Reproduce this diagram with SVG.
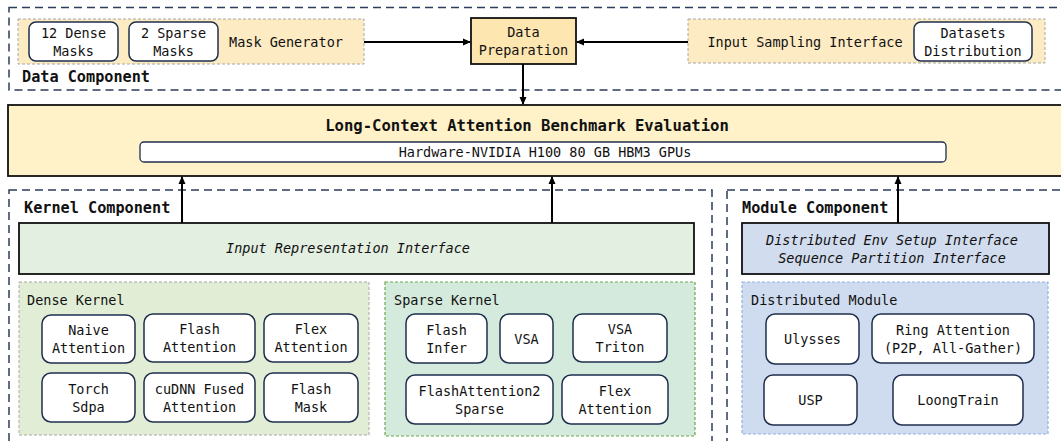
<svg xmlns="http://www.w3.org/2000/svg" width="1061" height="441" viewBox="0 0 1061 441">
<defs>
<marker id="ah" markerWidth="8" markerHeight="8" refX="7" refY="4" orient="auto" markerUnits="userSpaceOnUse">
<path d="M0,0.5 L8,4 L0,7.5 Z" fill="#000"/>
</marker>
<style>
text{font-family:"DejaVu Sans Mono","Liberation Mono",monospace;font-size:13.5px;fill:#111}
.c{text-anchor:middle}
.b{font-weight:bold;font-size:15.2px}
.t{font-weight:bold;font-size:15.6px}
.i{font-style:italic}
.comp{fill:none;stroke:#2b3d5c;stroke-width:1.5;stroke-dasharray:8 5}
.node{fill:#fff;stroke:#1e2f4d;stroke-width:1.5}
.solid{stroke:#111;stroke-width:1.8}
.conn{stroke:#000;stroke-width:2;fill:none;marker-end:url(#ah)}
</style>
</defs>

<g id="data-component">
<rect class="comp" x="9" y="7.5" width="1090" height="82.5"/>
<text class="b" x="22" y="82">Data Component</text>
</g>

<g id="mask-generator">
<rect x="18" y="19" width="346" height="45" fill="#fdebc3" stroke="#a8a8a8" stroke-width="1" stroke-dasharray="3 2"/>
<text class="c" x="286" y="47">Mask Generator</text>
</g>
<g id="dense-masks">
<rect class="node" x="29" y="22" width="89" height="39" rx="7"/>
<text class="c" x="73.5" y="37.5">12 Dense</text>
<text class="c" x="73.5" y="55.5">Masks</text>
</g>
<g id="sparse-masks">
<rect class="node" x="129" y="22" width="89" height="39" rx="7"/>
<text class="c" x="173.5" y="37.5">2 Sparse</text>
<text class="c" x="173.5" y="55.5">Masks</text>
</g>

<g id="data-preparation">
<rect x="471" y="18" width="105" height="46" fill="#fde6b0" class="solid"/>
<text class="c" x="523.5" y="37">Data</text>
<text class="c" x="523.5" y="55">Preparation</text>
</g>

<g id="input-sampling">
<rect x="688" y="19" width="357" height="44" fill="#fdebc3" stroke="#a8a8a8" stroke-width="1" stroke-dasharray="3 2"/>
<text class="c" x="805" y="47">Input Sampling Interface</text>
</g>
<g id="datasets-distribution">
<rect class="node" x="914" y="22" width="118" height="39" rx="7"/>
<text class="c" x="973" y="37.5">Datasets</text>
<text class="c" x="973" y="55.5">Distribution</text>
</g>

<g id="benchmark-evaluation">
<rect x="8" y="105" width="1090" height="71" fill="#fff2c8" class="solid"/>
<text class="t c" x="527" y="131">Long-Context Attention Benchmark Evaluation</text>
<rect x="140" y="142" width="806" height="20" rx="4" fill="#fff" stroke="#1e2f4d" stroke-width="1.3"/>
<text class="c" x="545" y="156.5">Hardware-NVIDIA H100 80 GB HBM3 GPUs</text>
</g>

<g id="kernel-component">
<rect class="comp" x="9" y="190" width="703" height="300"/>
<text class="b" x="24" y="213">Kernel Component</text>
</g>

<g id="module-component">
<rect class="comp" x="727" y="190" width="400" height="300"/>
<text class="b" x="742" y="213">Module Component</text>
</g>

<g id="input-representation">
<rect x="19" y="223" width="675" height="51" fill="#e3efe1" class="solid"/>
<text class="i c" x="348" y="253">Input Representation Interface</text>
</g>

<g id="distributed-env">
<rect x="742" y="223" width="307" height="51" fill="#d1dcee" class="solid"/>
<text class="i c" x="892" y="245">Distributed Env Setup Interface</text>
<text class="i c" x="892" y="263">Sequence Partition Interface</text>
</g>

<g id="dense-kernel">
<rect x="19" y="282" width="350" height="153" fill="#e2edd6" stroke="#a8a8a8" stroke-width="1" stroke-dasharray="3 2"/>
<text x="27" y="305">Dense Kernel</text>
</g>
<g id="naive-attention">
<rect class="node" x="42" y="315" width="93" height="48" rx="9"/>
<text class="c" x="88.5" y="335">Naive</text>
<text class="c" x="88.5" y="353">Attention</text>
</g>
<g id="flash-attention">
<rect class="node" x="144" y="314" width="111" height="48" rx="9"/>
<text class="c" x="199.5" y="334">Flash</text>
<text class="c" x="199.5" y="352">Attention</text>
</g>
<g id="flex-attention-dense">
<rect class="node" x="264" y="314" width="94" height="48" rx="9"/>
<text class="c" x="311" y="334">Flex</text>
<text class="c" x="311" y="352">Attention</text>
</g>
<g id="torch-sdpa">
<rect class="node" x="42" y="373" width="93" height="49" rx="9"/>
<text class="c" x="88.5" y="393.5">Torch</text>
<text class="c" x="88.5" y="411.5">Sdpa</text>
</g>
<g id="cudnn-fused">
<rect class="node" x="144" y="373" width="111" height="49" rx="9"/>
<text class="c" x="199.5" y="393.5">cuDNN Fused</text>
<text class="c" x="199.5" y="411.5">Attention</text>
</g>
<g id="flash-mask">
<rect class="node" x="264" y="373" width="94" height="49" rx="9"/>
<text class="c" x="311" y="393.5">Flash</text>
<text class="c" x="311" y="411.5">Mask</text>
</g>

<g id="sparse-kernel">
<rect x="385" y="282" width="310" height="154" fill="#d4eadc" stroke="#6aa84f" stroke-width="1.2" stroke-dasharray="3 2"/>
<text x="394" y="305">Sparse Kernel</text>
</g>
<g id="flash-infer">
<rect class="node" x="406" y="314" width="81" height="49" rx="9"/>
<text class="c" x="446.5" y="334.5">Flash</text>
<text class="c" x="446.5" y="352.5">Infer</text>
</g>
<g id="vsa">
<rect class="node" x="500" y="314" width="53" height="49" rx="9"/>
<text class="c" x="526.5" y="343.5">VSA</text>
</g>
<g id="vsa-triton">
<rect class="node" x="573" y="314" width="94" height="48" rx="9"/>
<text class="c" x="620" y="334">VSA</text>
<text class="c" x="620" y="352">Triton</text>
</g>
<g id="flashattention2-sparse">
<rect class="node" x="406" y="375" width="147" height="49" rx="9"/>
<text class="c" x="479.5" y="395.5">FlashAttention2</text>
<text class="c" x="479.5" y="413.5">Sparse</text>
</g>
<g id="flex-attention-sparse">
<rect class="node" x="562" y="375" width="106" height="49" rx="9"/>
<text class="c" x="615" y="395.5">Flex</text>
<text class="c" x="615" y="413.5">Attention</text>
</g>

<g id="distributed-module">
<rect x="742" y="282" width="306" height="152" fill="#cfdbee" stroke="#8eb4e3" stroke-width="1.2" stroke-dasharray="3 2"/>
<text x="751" y="305">Distributed Module</text>
</g>
<g id="ulysses">
<rect class="node" x="766" y="314" width="93" height="50" rx="9"/>
<text class="c" x="812.5" y="344">Ulysses</text>
</g>
<g id="ring-attention">
<rect class="node" x="872" y="314" width="162" height="49" rx="9"/>
<text class="c" x="953" y="334.5">Ring Attention</text>
<text class="c" x="953" y="352.5">(P2P, All-Gather)</text>
</g>
<g id="usp">
<rect class="node" x="764" y="375" width="93" height="50" rx="9"/>
<text class="c" x="810.5" y="405">USP</text>
</g>
<g id="loongtrain">
<rect class="node" x="893" y="375" width="130" height="50" rx="9"/>
<text class="c" x="958" y="405">LoongTrain</text>
</g>

<g id="connectors">
<line class="conn" x1="364" y1="42" x2="470" y2="42"/>
<line class="conn" x1="688" y1="42" x2="577" y2="42"/>
<line class="conn" x1="523" y1="64" x2="523" y2="104"/>
<line class="conn" x1="182" y1="223" x2="182" y2="177"/>
<line class="conn" x1="552" y1="223" x2="552" y2="177"/>
<line class="conn" x1="898" y1="223" x2="898" y2="177"/>
</g>
</svg>
